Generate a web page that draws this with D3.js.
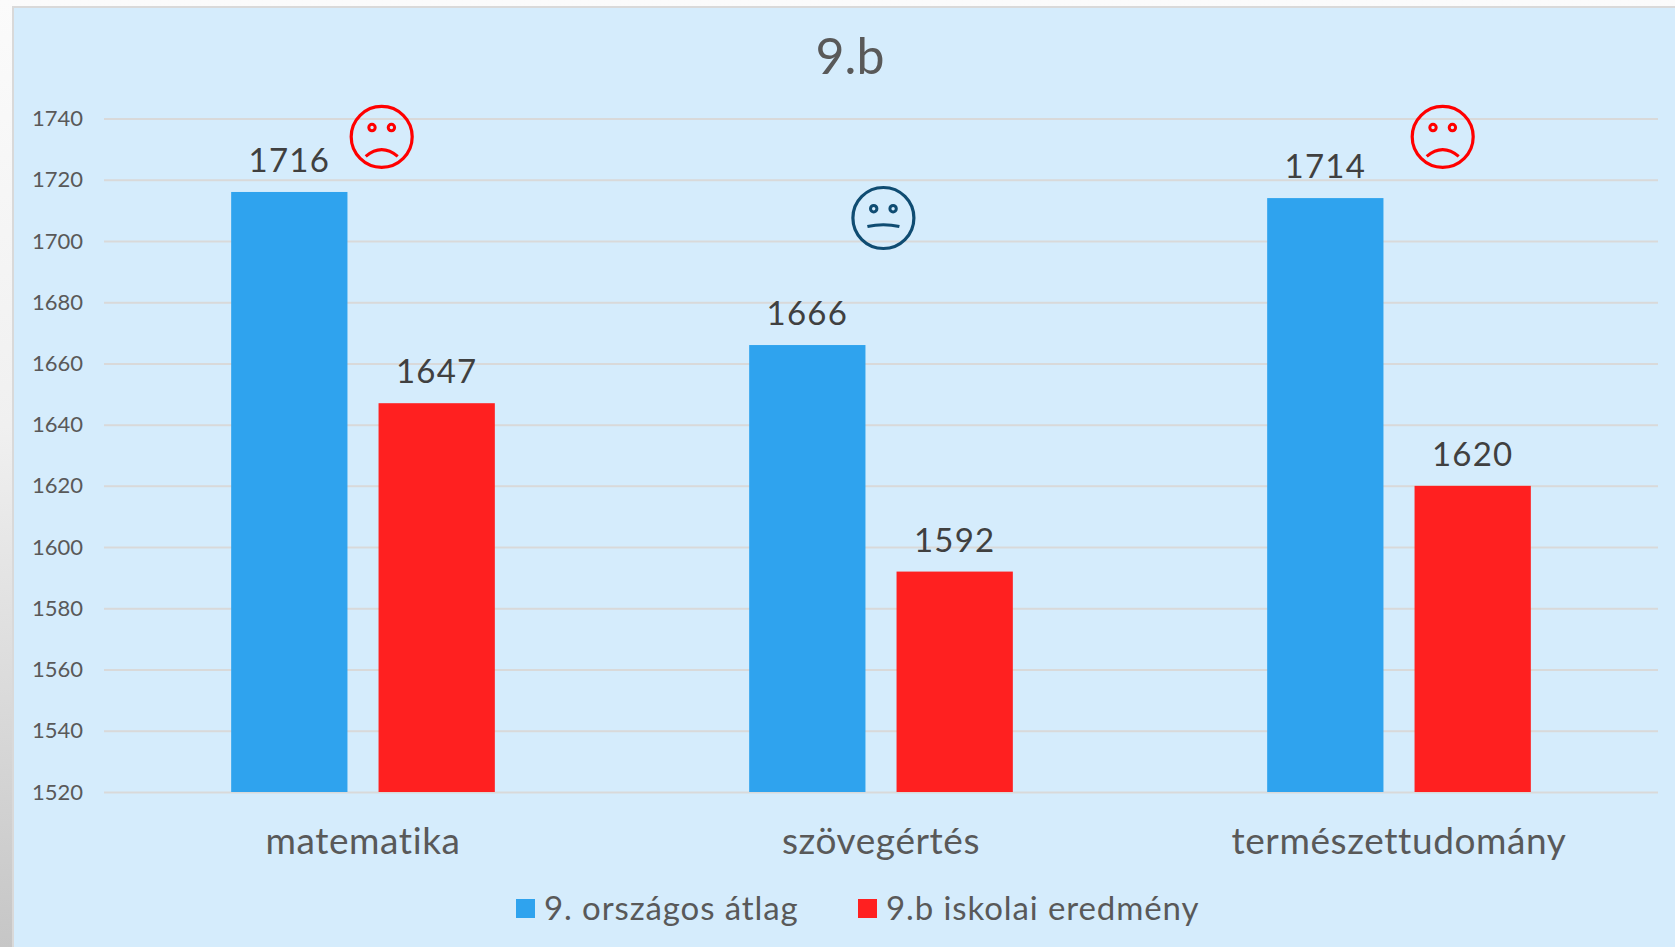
<!DOCTYPE html>
<html>
<head>
<meta charset="utf-8">
<script src="https://cdnjs.cloudflare.com/ajax/libs/d3/7.8.5/d3.min.js"></script>
<style>
  html, body { margin: 0; padding: 0; background: #fff; overflow: hidden; }
  text { font-family: Lato, "Open Sans", sans-serif; }
</style>
</head>
<body>
<div id="chart"></div>
<script>
var categories = ["matematika", "szövegértés", "természettudomány"];
var seriesNames = ["9. országos átlag", "9.b iskolai eredmény"];
var nationalAvg = [1716, 1666, 1714];
var classResult = [1647, 1592, 1620];
var yTicks = [1520, 1540, 1560, 1580, 1600, 1620, 1640, 1660, 1680, 1700, 1720, 1740];
var faceLevels = [1734, 1707.5, 1734];
var faceMoods = ["sad", "neutral", "sad"];

var width = 1675, height = 947;
var colors = ["#2fa3ee", "#ff2020"];
var textGray = "#595959";
var plot = { left: 104, right: 1658, top: 118.5, bottom: 792 };

var svg = d3.select("#chart").append("svg")
  .attr("width", width)
  .attr("height", height)
  .style("display", "block");

// slide background behind the panel, grey towards the bottom left
var grad = svg.append("defs").append("linearGradient")
  .attr("id", "slideBg")
  .attr("x1", 0).attr("y1", 0).attr("x2", 0).attr("y2", 1);
grad.append("stop").attr("offset", "0%").attr("stop-color", "#fbfbfb");
grad.append("stop").attr("offset", "45%").attr("stop-color", "#f0f0f0");
grad.append("stop").attr("offset", "100%").attr("stop-color", "#c6c6c6");

svg.append("rect").attr("width", width).attr("height", height).attr("fill", "url(#slideBg)");
svg.append("rect")
  .attr("x", 13).attr("y", 7)
  .attr("width", width).attr("height", height)
  .attr("fill", "#d5ecfc")
  .attr("stroke", "#d9d9d9")
  .attr("stroke-width", 2);

var x0 = d3.scaleBand()
  .domain(categories)
  .range([plot.left, plot.right])
  .paddingInner(0.491)
  .paddingOuter(0.2455);

var x1 = d3.scaleBand()
  .domain(seriesNames)
  .range([0, x0.bandwidth()])
  .paddingInner(0.211);

var y = d3.scaleLinear()
  .domain([1520, 1740])
  .range([plot.bottom, plot.top]);

// y axis, its ticks double as the gridlines
var yAxis = svg.append("g")
  .attr("transform", "translate(" + plot.left + ",0)")
  .call(d3.axisLeft(y)
    .tickValues(yTicks)
    .tickFormat(d3.format("d"))
    .tickSize(-(plot.right - plot.left))
    .tickPadding(21));
yAxis.select(".domain").remove();
yAxis.selectAll(".tick line").attr("stroke", "#d9d9d9").attr("stroke-width", 2);
yAxis.selectAll(".tick text")
  .attr("fill", textGray)
  .style("font-size", "22px");

var rows = categories.map(function(c, i) {
  return { category: c, values: [nationalAvg[i], classResult[i]] };
});

var groups = svg.selectAll(".group")
  .data(rows)
  .enter().append("g")
  .attr("class", "group")
  .attr("transform", function(d) { return "translate(" + x0(d.category) + ",0)"; });

groups.selectAll("rect")
  .data(function(d) { return d.values; })
  .enter().append("rect")
  .attr("x", function(d, i) { return x1(seriesNames[i]); })
  .attr("y", function(d) { return y(d); })
  .attr("width", x1.bandwidth())
  .attr("height", function(d) { return y(1520) - y(d); })
  .attr("fill", function(d, i) { return colors[i]; });

groups.selectAll(".value")
  .data(function(d) { return d.values; })
  .enter().append("text")
  .attr("class", "value")
  .attr("x", function(d, i) { return x1(seriesNames[i]) + x1.bandwidth() / 2; })
  .attr("y", function(d) { return y(d) - 16; })
  .attr("dy", -4)
  .attr("text-anchor", "middle")
  .attr("fill", "#404040")
  .style("font-size", "33px")
  .style("letter-spacing", "1.2px")
  .text(function(d) { return d; });

// category labels
svg.selectAll(".cat")
  .data(categories)
  .enter().append("text")
  .attr("class", "cat")
  .attr("x", function(d) { return x0(d) + x0.bandwidth() / 2; })
  .attr("y", 854)
  .attr("text-anchor", "middle")
  .attr("fill", textGray)
  .style("font-size", "37px")
  .style("letter-spacing", "0.6px")
  .text(function(d) { return d; });

svg.append("text")
  .attr("x", 850).attr("y", 74)
  .attr("text-anchor", "middle")
  .attr("fill", textGray)
  .style("font-size", "50px")
  .text("9.b");

// legend
var legendX = [516, 858];
var legend = svg.selectAll(".legend")
  .data(seriesNames)
  .enter().append("g")
  .attr("class", "legend")
  .attr("transform", function(d, i) { return "translate(" + legendX[i] + ",899)"; });
legend.append("rect")
  .attr("width", 19).attr("height", 19)
  .attr("fill", function(d, i) { return colors[i]; });
legend.append("text")
  .attr("x", 28).attr("y", 21)
  .attr("fill", textGray)
  .style("font-size", "33px")
  .style("letter-spacing", "0.9px")
  .text(function(d) { return d; });

// smileys above each group
var faceOffset = [18.7, 2.4, 43.7];
var faceColor = { sad: "#ff0000", neutral: "#0f4c72" };
var faces = svg.selectAll(".face")
  .data(faceMoods)
  .enter().append("g")
  .attr("class", "face")
  .attr("transform", function(d, i) {
    return "translate(" + (x0(categories[i]) + x0.bandwidth() / 2 + faceOffset[i]) + "," + y(faceLevels[i]) + ")";
  })
  .attr("fill", "none")
  .attr("stroke", function(d) { return faceColor[d]; });
faces.append("circle").attr("r", 30.5).attr("stroke-width", 3.2);
[-9.7, 9.7].forEach(function(ex) {
  faces.append("circle")
    .attr("cx", ex).attr("cy", -9.3)
    .attr("r", 3.2).attr("stroke-width", 3);
});
faces.append("path")
  .attr("stroke-width", 3.2)
  .attr("d", function(d) {
    return d === "sad" ? "M-16,19.5Q0,6 16,19.5" : "M-16,8.5Q0,5 16,8.5";
  });
</script>
</body>
</html>
